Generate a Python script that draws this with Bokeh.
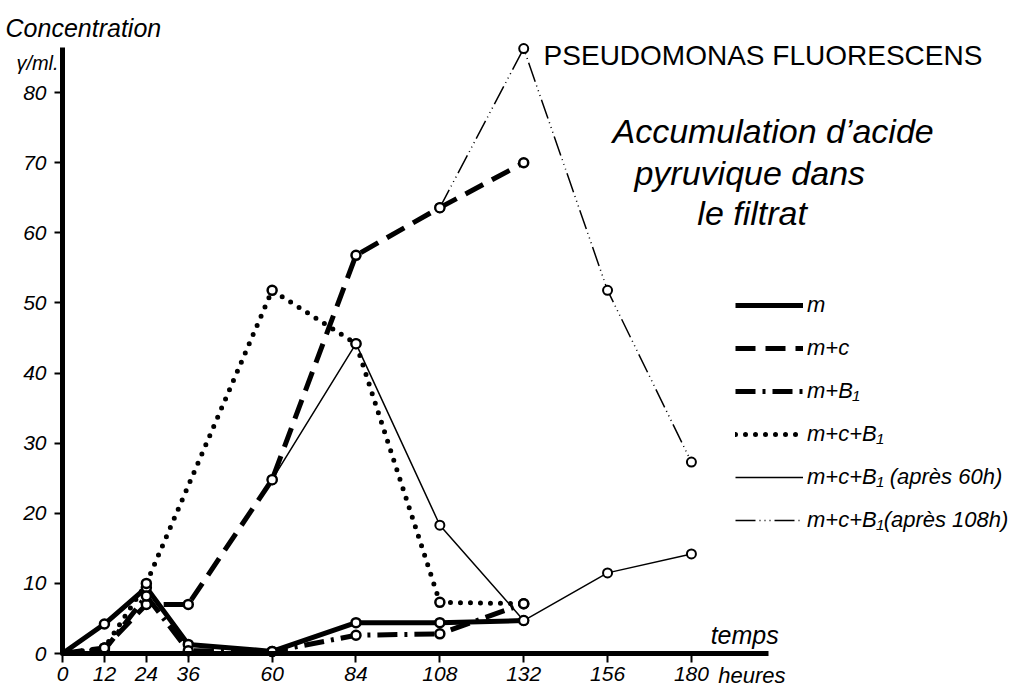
from bokeh.plotting import figure
from bokeh.models import Range1d, FixedTicker, Label, Legend, LegendItem
from bokeh.embed import file_html
from bokeh.resources import INLINE

# ---- data ----
hours = [0, 12, 24, 36, 60, 84, 108, 132]
m_vals = [0, 4.2, 9.4, 1.3, 0.3, 4.4, 4.4, 4.7]
mc_vals = [0, 0.8, 7.0, 7.0, 24.8, 56.8, 63.6, 70.0]
mb1_vals = [0, 0.5, 8.2, 0.4, 0.3, 2.6, 2.8, 7.1]
mcb1_hours = [0, 12, 24, 60, 84, 108, 132]
mcb1_vals = [0, 0.8, 10.0, 51.8, 44.2, 7.3, 7.1]
after60_hours = [60, 84, 108, 132, 156, 180]
after60_vals = [24.8, 44.2, 18.3, 4.7, 11.5, 14.2]
after108_hours = [108, 132, 156, 180]
after108_vals = [63.6, 86.3, 51.8, 27.3]

x_ticks = [0, 12, 24, 36, 60, 84, 108, 132, 156, 180]
y_ticks = [0, 10, 20, 30, 40, 50, 60, 70, 80]

labels = ["m", "m+c", "m+B\u2081", "m+c+B\u2081",
          "m+c+B\u2081 (apr\u00e8s 60h)", "m+c+B\u2081(apr\u00e8s 108h)"]

FONT = "Liberation Sans"

# frame spans the whole figure; axes are pinned at data 0
p = figure(width=1014, height=690, output_backend="svg", toolbar_location=None,
           x_range=Range1d(-17.745, 272.47), y_range=Range1d(-5.278, 93.15),
           min_border=0)
p.outline_line_color = None
p.grid.visible = False
p.background_fill_color = "white"

for ax in (p.xaxis[0], p.yaxis[0]):
    ax.fixed_location = 0
    ax.axis_line_width = 5
    ax.axis_line_color = "black"
    ax.major_tick_line_width = 2
    ax.major_tick_in = 0
    ax.minor_tick_line_color = None
    ax.major_label_text_font = FONT
    ax.major_label_text_font_style = "italic"
    ax.major_label_text_font_size = "21px"
    ax.major_label_text_color = "black"

p.xaxis.major_tick_out = 9
p.xaxis.major_label_standoff = 4
p.yaxis.major_tick_out = 8
p.yaxis.major_label_standoff = 8

p.xaxis.ticker = FixedTicker(ticks=x_ticks)
p.yaxis.ticker = FixedTicker(ticks=y_ticks)
p.xaxis.bounds = (0, 202)
p.yaxis.bounds = (0, 86.5)

K = "black"
r_m = p.line(hours, m_vals, line_color=K, line_width=5, line_join="round")
r_mc = p.line(hours, mc_vals, line_color=K, line_width=5, line_dash="20 10")
r_mb1 = p.line(hours, mb1_vals, line_color=K, line_width=5, line_dash="20 7 3 7")
r_mcb1 = p.line(mcb1_hours, mcb1_vals, line_color=K, line_width=5,
                line_dash="0 10", line_cap="round")
r_a60 = p.line(after60_hours, after60_vals, line_color=K, line_width=1.5)
r_a108 = p.line(after108_hours, after108_vals, line_color=K, line_width=1.5,
                line_dash="20 4 1 4 1 4 1 4")

for xs, ys, lw in [(hours, m_vals, 2.5), (hours, mc_vals, 2.5), (hours, mb1_vals, 2.5),
                   (mcb1_hours, mcb1_vals, 2.5), (after60_hours, after60_vals, 2),
                   (after108_hours, after108_vals, 2)]:
    xx = [a for a in xs if a > 0]
    yy = [b for a, b in zip(xs, ys) if a > 0]
    p.scatter(xx, yy, marker="circle", size=9, fill_color="white",
              line_color=K, line_width=lw)

legend = Legend(items=[LegendItem(label=l, renderers=[r]) for l, r in
                       zip(labels, [r_m, r_mc, r_mb1, r_mcb1, r_a60, r_a108])],
                location=(735, 157), glyph_width=68, glyph_height=20,
                label_height=20, spacing=17, label_standoff=4, padding=0,
                margin=0, background_fill_alpha=0, border_line_alpha=0,
                label_text_font=FONT, label_text_font_style="italic",
                label_text_font_size="22px", label_text_color="black")
p.add_layout(legend, "center")


def lab(x, y, t, size, style="italic"):
    p.add_layout(Label(x=x, y=y, text=t, text_font=FONT, text_font_style=style,
                       text_font_size=size, text_baseline="middle",
                       text_align="left", text_color="black"))


lab(-16.3, 89.2, "Concentration", "25px")
lab(-13.2, 84.3, "\u03b3/ml.", "20px")
lab(137.7, 85.3, "PSEUDOMONAS  FLUORESCENS", "28px", "normal")
lab(157.4, 74.6, "Accumulation d\u2019acide", "34px")
lab(163.7, 68.6, "pyruvique dans", "34px")
lab(181.7, 62.8, "le filtrat", "34px")
lab(185.5, 2.7, "temps", "25px")
lab(187.7, -3.1, "heures", "22px")

open("out.html", "w").write(file_html(p, INLINE))
